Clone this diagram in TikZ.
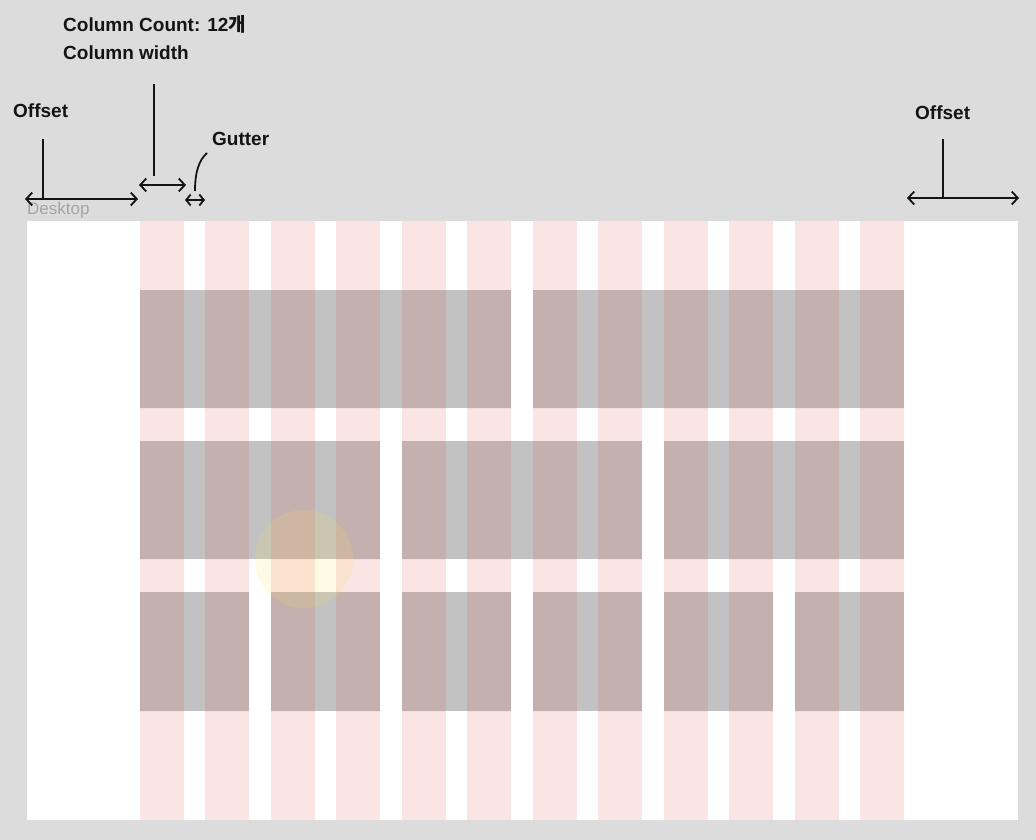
\documentclass[tikz,border=0pt]{standalone}
\usepackage{fontspec}
\setmainfont{Liberation Sans}
\newfontfamily\kr{Noto Sans CJK KR}
\usetikzlibrary{arrows.meta}
\definecolor{bg}{RGB}{220,220,220}
\definecolor{colpink}{RGB}{250,228,228}
\definecolor{blkgray}{RGB}{194,194,194}
\definecolor{blkpink}{RGB}{197,176,176}
\definecolor{deskgray}{RGB}{165,165,165}
\definecolor{ink}{RGB}{20,20,20}
\definecolor{glow}{RGB}{255,222,88}
\begin{document}
\begin{tikzpicture}[x=1pt,y=-1pt,
  lbl/.style={font=\bfseries\fontsize{19}{22}\selectfont, text=ink, inner sep=0, anchor=base west},
  dimarrow/.style={draw=ink, line width=1.8pt, {Straight Barb[length=6pt,width=13pt]}-{Straight Barb[length=6pt,width=13pt]}},
  smallarrow/.style={draw=ink, line width=1.8pt, {Straight Barb[length=4.5pt,width=11pt]}-{Straight Barb[length=4.5pt,width=11pt]}},
  leadline/.style={draw=ink, line width=1.8pt},
]
\fill[bg] (0,0) rectangle (1036,840);
\useasboundingbox (0,0) rectangle (1036,840);
\fill[white] (27,221) rectangle (1018,820);
% columns
\foreach \i in {0,...,11} {\fill[colpink] ({140+\i*65.45},221) rectangle ({184+\i*65.45},820);}
% blocks
\def\blocks{1/6/290/408, 7/12/290/408,
  1/4/441/559, 5/8/441/559, 9/12/441/559,
  1/2/592/711, 3/4/592/711, 5/6/592/711, 7/8/592/711, 9/10/592/711, 11/12/592/711}
\foreach \a/\b/\t/\u in \blocks {\fill[blkgray] ({140+(\a-1)*65.45},\t) rectangle ({184+(\b-1)*65.45},\u);}
\begin{scope}
  \clip \foreach \a/\b/\t/\u in \blocks {({140+(\a-1)*65.45},\t) rectangle ({184+(\b-1)*65.45},\u)};
  \foreach \i in {0,...,11} {\fill[blkpink] ({140+\i*65.45},221) rectangle ({184+\i*65.45},820);}
\end{scope}
% cursor glow
\fill[glow, opacity=0.15] (304,559) circle (49);
% labels
\node[lbl] (cc) at (63,32) {Column Count: 12{\kr\bfseries 개}};
\node[lbl] (cw) at (63,60) {Column width};
\node[lbl] (offL) at (13,118) {Offset};
\node[lbl] (gut) at (212,146) {Gutter};
\node[lbl] (offR) at (915,120) {Offset};
\node[font=\fontsize{17}{20}\selectfont, text=deskgray, inner sep=0, anchor=base west] (desk) at (27,214) {Desktop};
% left offset
\coordinate (oL1) at (25,199); \coordinate (oL2) at (138,199);
\coordinate (oLt) at (43,139); \coordinate (oLb) at (43,199);
\draw[dimarrow] (oL1) -- (oL2);
\draw[leadline] (oLt) -- (oLb);
% column width
\coordinate (cw1) at (139,185); \coordinate (cw2) at (186,185);
\coordinate (cwt) at (154,84); \coordinate (cwb) at (154,176);
\draw[dimarrow] (cw1) -- (cw2);
\draw[leadline] (cwt) -- (cwb);
% gutter
\coordinate (g1) at (185,200); \coordinate (g2) at (205,200);
\coordinate (gb) at (195,191); \coordinate (gt) at (207,153);
\draw[smallarrow] (g1) -- (g2);
\draw[leadline] (gb) .. controls (195,172) and (199,160) .. (gt);
% right offset
\coordinate (oR1) at (907,198); \coordinate (oR2) at (1019,198);
\coordinate (oRt) at (943,139); \coordinate (oRb) at (943,198);
\draw[dimarrow] (oR1) -- (oR2);
\draw[leadline] (oRt) -- (oRb);
\end{tikzpicture}
\end{document}
